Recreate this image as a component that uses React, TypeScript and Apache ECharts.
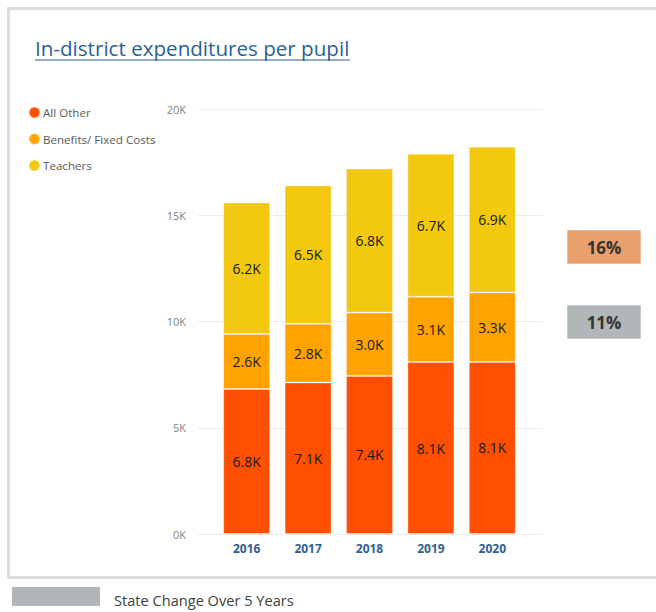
import React, { useEffect, useRef } from "react";
import * as echarts from "echarts";

const years = ["2016", "2017", "2018", "2019", "2020"];
const allOther = [6820, 7130, 7440, 8090, 8100];
const benefits = [2590, 2760, 2980, 3080, 3260];
const teachers = [6190, 6510, 6780, 6720, 6860];
const yTicks = [0, 5000, 10000, 15000, 20000];
const districtChange = "16%";
const stateChange = "11%";

const FONT = "'Open Sans', 'Noto Sans', sans-serif";

export default function App() {
  const ref = useRef<HTMLDivElement>(null);
  useEffect(() => {
    if (!ref.current) return;
    const chart = echarts.init(ref.current, null, { renderer: "svg" });
    const fmtK = (v: number) => (v / 1000).toFixed(1) + "K";
    const label = {
      show: true,
      position: "inside",
      color: "#1a1a1a",
      fontSize: 14,
      fontFamily: FONT,
      formatter: (p: any) => fmtK(p.value),
    };
    const itemBorder = { borderColor: "rgba(255,255,255,0.3)", borderWidth: 1 };
    chart.setOption({
      animation: false,
      textStyle: { fontFamily: FONT },
      legend: {
        orient: "vertical",
        left: 23,
        top: 101,
        icon: "circle",
        itemWidth: 11,
        itemHeight: 11,
        itemGap: 13.5,
        textStyle: { color: "#595959", fontSize: 11.6, fontFamily: FONT, padding: [0, 0, 0, -2] },
        data: ["All Other", "Benefits/ Fixed Costs", "Teachers"],
      },
      grid: [
        { left: 216, width: 307, top: 109, height: 425 },
        { left: 198, width: 345, top: 109, height: 425 },
      ],
      xAxis: [
        {
          type: "category",
          gridIndex: 0,
          data: years,
          axisLine: { show: false },
          axisTick: { show: false },
          axisLabel: { color: "#2d5f8e", fontWeight: "bold", fontSize: 12, margin: 8, fontFamily: FONT },
        },
        { type: "value", gridIndex: 1, show: false, min: 0, max: 1 },
      ],
      yAxis: [
        { type: "value", gridIndex: 0, min: 0, max: 20000, interval: 5000, show: false },
        {
          type: "value",
          gridIndex: 1,
          min: yTicks[0],
          max: yTicks[yTicks.length - 1],
          interval: 5000,
          axisLine: { show: false },
          axisTick: { show: false },
          splitLine: { lineStyle: { color: "#ececec", width: 1 } },
          axisLabel: {
            color: "#808080",
            fontSize: 11,
            margin: 12,
            fontFamily: FONT,
            formatter: (v: number) => v / 1000 + "K",
          },
        },
      ],
      series: [
        {
          name: "All Other",
          type: "bar",
          stack: "s",
          barWidth: 47,
          data: allOther,
          itemStyle: { color: "#FE5000", ...itemBorder },
          label,
        },
        {
          name: "Benefits/ Fixed Costs",
          type: "bar",
          stack: "s",
          barWidth: 47,
          data: benefits,
          itemStyle: { color: "#FEA300", ...itemBorder },
          label,
        },
        {
          name: "Teachers",
          type: "bar",
          stack: "s",
          barWidth: 47,
          data: teachers,
          itemStyle: { color: "#F2C811", ...itemBorder },
          label,
        },
      ],
      graphic: [
        {
          type: "rect",
          shape: { x: 8.5, y: 8.5, width: 680, height: 569 },
          style: { fill: "none", stroke: "#dcdcdc", lineWidth: 3 },
          silent: true,
        },
        {
          type: "text",
          x: 35,
          y: 48,
          style: {
            text: "In-district expenditures per pupil",
            fill: "#2a5f96",
            fontSize: 20.6,
            fontFamily: FONT,
            verticalAlign: "middle",
          },
        },
        {
          type: "line",
          shape: { x1: 35, y1: 60, x2: 350, y2: 60 },
          style: { stroke: "#2a5f96", lineWidth: 1 },
        },
        {
          type: "rect",
          shape: { x: 567, y: 230, width: 74, height: 34 },
          style: { fill: "#E9A06D", stroke: "rgba(255,255,255,0.6)", lineWidth: 1 },
        },
        {
          type: "text",
          x: 604,
          y: 247,
          style: {
            text: districtChange,
            fill: "#333333",
            fontSize: 17,
            fontWeight: "bold",
            fontFamily: FONT,
            align: "center",
            verticalAlign: "middle",
          },
        },
        {
          type: "rect",
          shape: { x: 567, y: 305, width: 74, height: 34 },
          style: { fill: "#B1B6B8", stroke: "rgba(255,255,255,0.6)", lineWidth: 1 },
        },
        {
          type: "text",
          x: 604,
          y: 322,
          style: {
            text: stateChange,
            fill: "#333333",
            fontSize: 17,
            fontWeight: "bold",
            fontFamily: FONT,
            align: "center",
            verticalAlign: "middle",
          },
        },
        {
          type: "rect",
          shape: { x: 12, y: 587, width: 88, height: 19 },
          style: { fill: "#B1B6B8" },
        },
        {
          type: "text",
          x: 114,
          y: 600,
          style: {
            text: "State Change Over 5 Years",
            fill: "#404040",
            fontSize: 14.6,
            fontFamily: FONT,
            verticalAlign: "middle",
          },
        },
      ],
    });
    return () => chart.dispose();
  }, []);
  return (
    <div
      ref={ref}
      style={{ position: "fixed", left: 0, top: 0, width: 656, height: 612, background: "#fff" }}
    />
  );
}
